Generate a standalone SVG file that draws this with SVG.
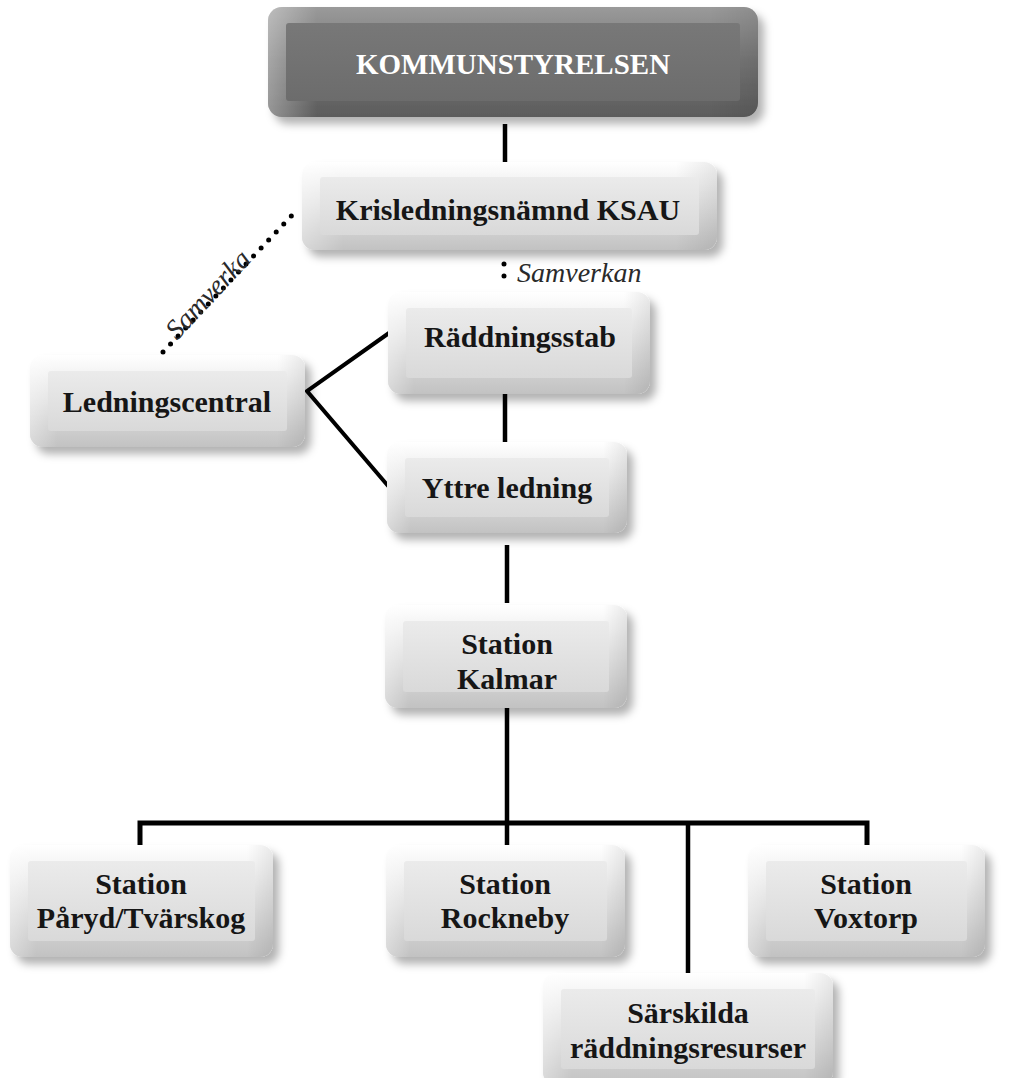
<svg xmlns="http://www.w3.org/2000/svg" width="1009" height="1078" viewBox="0 0 1009 1078">
<style>
.lbl{font-family:"Liberation Serif","Times New Roman",serif;font-weight:bold;font-size:30px;fill:#161616;text-anchor:middle}
.top{fill:#ffffff;font-size:29px}
.it{font-family:"Liberation Serif","Times New Roman",serif;font-style:italic;font-size:28px;fill:#2a2a2a}
.o{fill:url(#gOut);filter:url(#sh)}
.s{fill:url(#gSide)}
.i{fill:url(#gIn)}
.od{fill:url(#gOutD);filter:url(#sh)}
.id{fill:url(#gInD)}
.c{stroke:#000;stroke-width:4.5;fill:none;stroke-linecap:butt}
.d{stroke:#000;stroke-width:5;fill:none;stroke-linecap:round;stroke-dasharray:0 11}
</style>
<defs>
<filter id="sh" x="-10%" y="-10%" width="125%" height="135%">
<feDropShadow dx="6" dy="7" stdDeviation="4" flood-color="#000" flood-opacity="0.3"/>
</filter>
<linearGradient id="gOut" x1="0" y1="0" x2="0" y2="1">
<stop offset="0" stop-color="#ffffff"/>
<stop offset="0.5" stop-color="#e2e2e2"/>
<stop offset="1" stop-color="#c2c2c2"/>
</linearGradient>
<linearGradient id="gSide" x1="0" y1="0" x2="1" y2="0">
<stop offset="0" stop-color="#ffffff" stop-opacity="0.35"/>
<stop offset="0.1" stop-color="#ffffff" stop-opacity="0"/>
<stop offset="0.9" stop-color="#000000" stop-opacity="0"/>
<stop offset="1" stop-color="#000000" stop-opacity="0.08"/>
</linearGradient>
<linearGradient id="gIn" x1="0" y1="0" x2="0" y2="1">
<stop offset="0" stop-color="#ebebeb"/>
<stop offset="1" stop-color="#d9d9d9"/>
</linearGradient>
<linearGradient id="gOutD" x1="0" y1="0" x2="0" y2="1">
<stop offset="0" stop-color="#9a9a9a"/>
<stop offset="0.5" stop-color="#767676"/>
<stop offset="1" stop-color="#5c5c5c"/>
</linearGradient>
<linearGradient id="gInD" x1="0" y1="0" x2="0" y2="1">
<stop offset="0" stop-color="#787878"/>
<stop offset="1" stop-color="#6c6c6c"/>
</linearGradient>
</defs>

<g id="connectors">
<line class="c" x1="505" y1="124" x2="505" y2="162"/>
<line class="d" x1="504" y1="264" x2="504" y2="288" style="stroke-dasharray:0 12"/>
<line class="d" x1="163" y1="352" x2="296" y2="211"/>
<polyline class="c" points="389,333 307,391 389,487" style="stroke-width:4;stroke-linejoin:miter"/>
<line class="c" x1="505" y1="394" x2="505" y2="443"/>
<line class="c" x1="507" y1="545" x2="507" y2="603"/>
<line class="c" x1="507" y1="708" x2="507" y2="845"/>
<polyline class="c" points="140,845 140,823 867,823 867,845" style="stroke-width:5"/>
<line class="c" x1="688" y1="823" x2="688" y2="973"/>
</g>

<g id="label-samverkan">
<text class="it" x="517" y="282">Samverkan</text>
<text class="it" transform="translate(177,341) rotate(-47)">Samverka</text>
</g>

<g id="n-kommunstyrelsen">
<rect class="od" x="268" y="7" width="490" height="110" rx="14"/>
<rect class="s" x="268" y="7" width="490" height="110" rx="14"/>
<rect class="id" x="286" y="23" width="454" height="78" rx="3"/>
<text class="lbl top" x="513" y="74">KOMMUNSTYRELSEN</text>
</g>

<g id="n-ksau">
<rect class="o" x="302" y="162" width="415" height="88" rx="13"/>
<rect class="s" x="302" y="162" width="415" height="88" rx="13"/>
<rect class="i" x="320" y="177" width="379" height="58" rx="3"/>
<text class="lbl" x="508" y="220">Krisledningsnämnd KSAU</text>
</g>

<g id="n-raddningsstab">
<rect class="o" x="388" y="292" width="262" height="102" rx="13"/>
<rect class="s" x="388" y="292" width="262" height="102" rx="13"/>
<rect class="i" x="406" y="308" width="226" height="70" rx="3"/>
<text class="lbl" x="520" y="347">Räddningsstab</text>
</g>

<g id="n-ledningscentral">
<rect class="o" x="30" y="355" width="275" height="92" rx="13"/>
<rect class="s" x="30" y="355" width="275" height="92" rx="13"/>
<rect class="i" x="48" y="371" width="239" height="60" rx="3"/>
<text class="lbl" x="167" y="412">Ledningscentral</text>
</g>

<g id="n-yttre">
<rect class="o" x="387" y="442" width="240" height="91" rx="13"/>
<rect class="s" x="387" y="442" width="240" height="91" rx="13"/>
<rect class="i" x="405" y="458" width="204" height="59" rx="3"/>
<text class="lbl" x="507" y="498">Yttre ledning</text>
</g>

<g id="n-kalmar">
<rect class="o" x="385" y="605" width="242" height="103" rx="13"/>
<rect class="s" x="385" y="605" width="242" height="103" rx="13"/>
<rect class="i" x="403" y="621" width="206" height="71" rx="3"/>
<text class="lbl" x="507" y="654">Station</text>
<text class="lbl" x="507" y="689">Kalmar</text>
</g>

<g id="n-paryd">
<rect class="o" x="10" y="845" width="263" height="112" rx="13"/>
<rect class="s" x="10" y="845" width="263" height="112" rx="13"/>
<rect class="i" x="28" y="861" width="227" height="80" rx="3"/>
<text class="lbl" x="141" y="894">Station</text>
<text class="lbl" x="141" y="928">Påryd/Tvärskog</text>
</g>

<g id="n-rockneby">
<rect class="o" x="386" y="845" width="239" height="112" rx="13"/>
<rect class="s" x="386" y="845" width="239" height="112" rx="13"/>
<rect class="i" x="404" y="861" width="203" height="80" rx="3"/>
<text class="lbl" x="505" y="894">Station</text>
<text class="lbl" x="505" y="928">Rockneby</text>
</g>

<g id="n-voxtorp">
<rect class="o" x="748" y="845" width="237" height="112" rx="13"/>
<rect class="s" x="748" y="845" width="237" height="112" rx="13"/>
<rect class="i" x="766" y="861" width="201" height="80" rx="3"/>
<text class="lbl" x="866" y="894">Station</text>
<text class="lbl" x="866" y="928">Voxtorp</text>
</g>

<g id="n-sarskilda">
<rect class="o" x="543" y="973" width="290" height="112" rx="13"/>
<rect class="s" x="543" y="973" width="290" height="112" rx="13"/>
<rect class="i" x="561" y="989" width="254" height="80" rx="3"/>
<text class="lbl" x="688" y="1023">Särskilda</text>
<text class="lbl" x="688" y="1058">räddningsresurser</text>
</g>
</svg>
